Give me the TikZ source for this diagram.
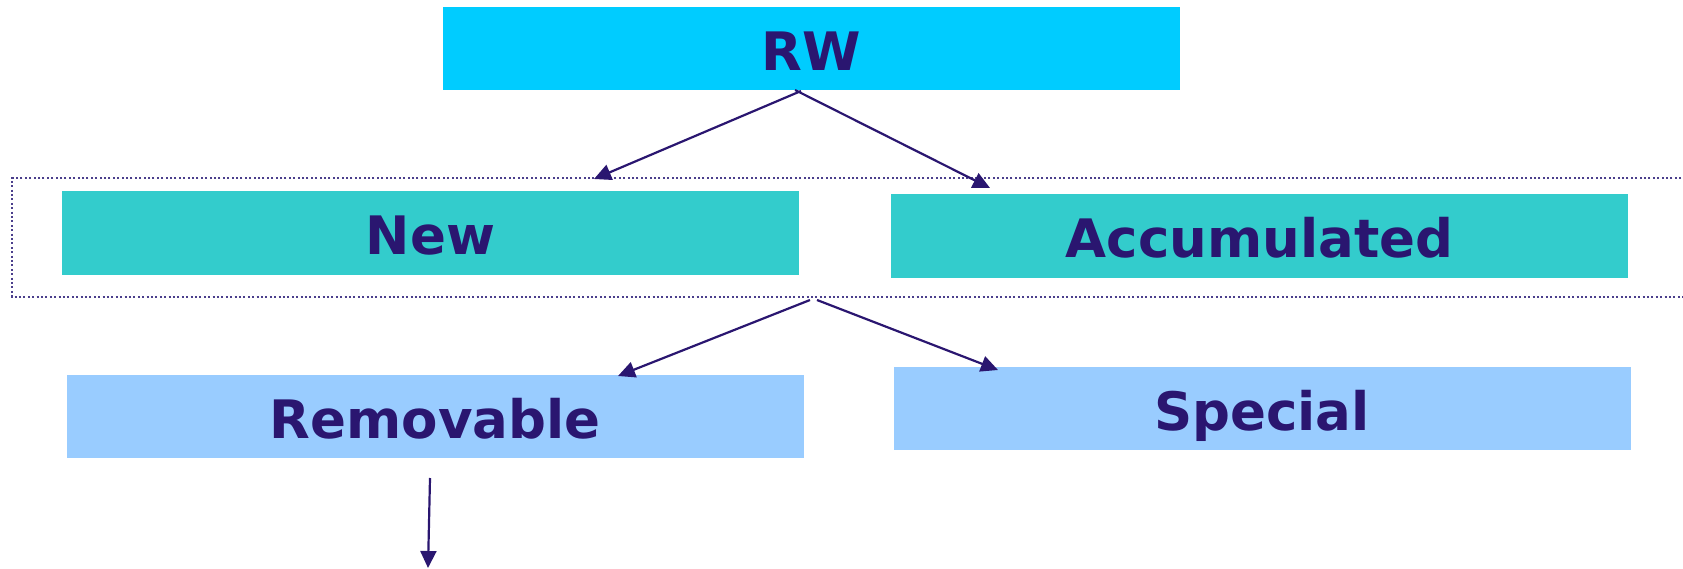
\documentclass[tikz,border=0pt]{standalone}
\usepackage{fontspec}
\setmainfont{DejaVu Sans}
\usetikzlibrary{arrows.meta}
\definecolor{navy}{HTML}{2A1670}
\definecolor{dotcol}{HTML}{4B3F8C}
\definecolor{topblue}{HTML}{00CCFF}
\definecolor{teal}{HTML}{33CCCC}
\definecolor{lightblue}{HTML}{99CCFF}
\begin{document}
\begin{tikzpicture}[x=1pt,y=-1pt,
  box/.style={rectangle, inner sep=0pt, minimum width=737pt, minimum height=83pt,
    text height=43pt, text depth=0pt, text=navy,
    font=\fontsize{53}{60}\selectfont\bfseries},
  conn/.style={draw=navy, line width=2.2pt, -{Triangle[length=17pt,width=16pt]}}]
\useasboundingbox (0,0) rectangle (1683,569);
% dotted grouping frame
\draw[dotcol, line width=2pt, dash pattern=on 2pt off 2.4pt]
  (1690,178) -- (12,178) -- (12,297) -- (1690,297);
\node[box, fill=topblue] (rw) at (811.5,49) {RW};
\node[box, fill=teal, minimum height=84pt] (new) at (430.5,233) {New};
\node[box, fill=teal, minimum height=84pt] (acc) at (1259.5,236) {Accumulated};
\node[box, fill=lightblue] (rem) at (435,416.5) {Removable};
\node[box, fill=lightblue] (spe) at (1262,408.5) {Special};
% connector end points
\coordinate (rwa) at (801,91);
\coordinate (rwb) at (795,90);
\coordinate (na) at (594,179);
\coordinate (nb) at (990,188);
\coordinate (ga) at (810,300);
\coordinate (gb) at (817,300);
\coordinate (ra) at (618,376);
\coordinate (sb) at (998,370);
\coordinate (bt) at (430,478);
\coordinate (bb) at (428,568);
\draw[conn] (rwa) -- (na);
\draw[conn] (rwb) -- (nb);
\draw[conn] (ga) -- (ra);
\draw[conn] (gb) -- (sb);
\draw[conn] (bt) -- (bb);
\end{tikzpicture}
\end{document}
